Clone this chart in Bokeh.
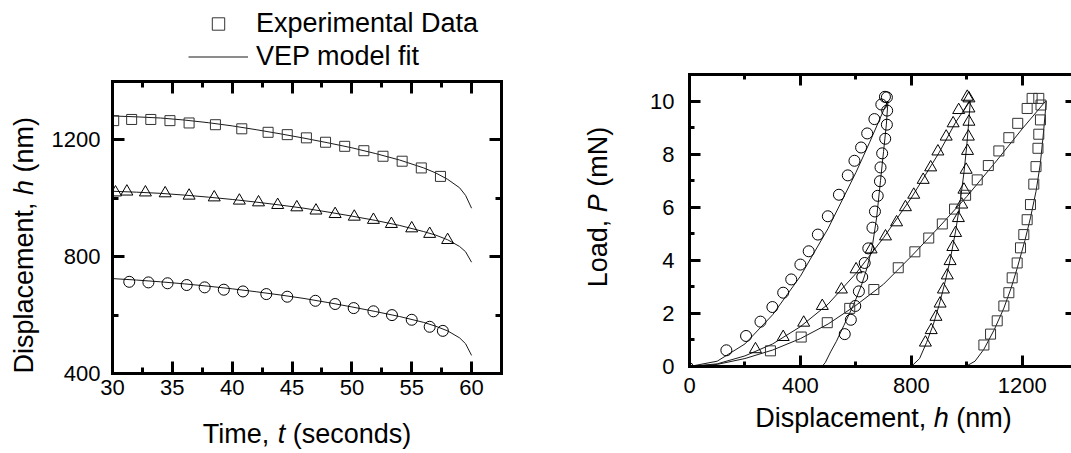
import math
from bokeh.plotting import figure
from bokeh.models import (LinearAxis, SingleIntervalTicker, Range1d, Label, Legend,
                          LegendItem, CustomJSTickFormatter)
from bokeh.layouts import row, column
from bokeh.embed import file_html
from bokeh.resources import INLINE

FONT = "Liberation Sans"

# ---------------- Left panel: displacement vs time ----------------
t_sq = [30.1, 31.6, 33.2, 34.8, 36.4, 38.6, 40.8, 43.0, 44.6, 46.2, 47.8, 49.4, 51.0, 52.6, 54.2, 55.8, 57.4]
h_sq = [1266, 1270, 1270, 1266, 1258, 1252, 1238, 1226, 1218, 1207, 1192, 1178, 1163, 1144, 1127, 1104, 1075]

t_tri = [30.25, 31.2, 32.75, 34.4, 36.4, 38.5, 40.6, 42.2, 43.8, 45.4, 47.0, 48.6, 50.2, 51.8, 53.3, 55.0, 56.5, 58.0]
h_tri = [1020, 1023, 1020, 1017, 1009, 1003, 992, 986, 977, 969, 958, 946, 937, 926, 912, 897, 878, 857]

t_cir = [31.4, 33.0, 34.6, 36.2, 37.7, 39.3, 40.9, 42.85, 44.6, 46.95, 48.6, 50.15, 51.8, 53.35, 55.0, 56.5, 57.6]
h_cir = [714, 712, 709, 703, 695, 687, 681, 672, 663, 649, 638, 624, 613, 600, 584, 560, 546]

t_fit = [30, 32, 34, 36, 38, 40, 42, 44, 46, 48, 50, 52, 54, 56, 57, 58, 59, 59.5, 60]
h_fit_sq = [1282, 1279, 1275, 1268, 1259, 1248, 1235, 1221, 1206, 1190, 1173, 1153, 1131, 1104, 1087, 1065, 1036, 1010, 966]
h_fit_tri = [1024, 1021, 1017, 1011, 1004, 996, 987, 977, 966, 953, 939, 924, 907, 886, 874, 858, 835, 817, 781]
h_fit_cir = [725, 720, 714, 707, 699, 690, 680, 669, 657, 643, 628, 612, 595, 575, 562, 546, 522, 502, 462]

# ---------------- Right panel: load vs displacement ----------------
cl_h = [133, 204, 256, 299, 338, 367, 400, 430, 463, 499, 539, 571, 595, 619, 641, 667, 692, 705]
cl_P = [0.61, 1.15, 1.69, 2.24, 2.78, 3.28, 3.84, 4.34, 4.97, 5.66, 6.47, 7.20, 7.75, 8.25, 8.78, 9.32, 9.87, 10.16]
cu_h = [712, 713, 712, 706, 695, 689, 687, 679, 669, 660, 645, 632, 623, 611, 598, 582, 560]
cu_P = [10.14, 9.64, 9.11, 8.58, 8.03, 7.50, 6.98, 6.43, 5.84, 5.23, 4.45, 3.90, 3.37, 2.83, 2.28, 1.76, 1.22]

tl_h = [238, 338, 412, 479, 548, 601, 655, 707, 747, 779, 809, 843, 870, 896, 926, 951, 971, 1002]
tl_P = [0.65, 1.11, 1.65, 2.28, 2.90, 3.66, 4.41, 4.90, 5.43, 6.00, 6.47, 7.03, 7.50, 8.10, 8.66, 9.16, 9.66, 10.16]
tu_h = [851, 872, 889, 904, 916, 930, 940, 950, 960, 970, 982, 990, 998, 1003, 1006, 1008, 1008, 1008]
tu_P = [0.90, 1.37, 1.87, 2.37, 2.90, 3.43, 3.97, 4.50, 5.03, 5.59, 6.10, 6.66, 7.41, 8.12, 8.66, 9.22, 9.72, 10.10]

sl_h = [292, 403, 497, 578, 665, 753, 813, 863, 912, 956, 996, 1038, 1078, 1116, 1152, 1184, 1218, 1236, 1260]
sl_P = [0.59, 1.11, 1.65, 2.19, 2.90, 3.72, 4.32, 4.84, 5.37, 5.93, 6.45, 7.03, 7.57, 8.12, 8.62, 9.16, 9.72, 10.10, 10.10]
su_h = [1062, 1086, 1110, 1134, 1152, 1164, 1182, 1194, 1206, 1218, 1230, 1242, 1250, 1257, 1260, 1266, 1268]
su_P = [0.81, 1.22, 1.72, 2.28, 2.78, 3.34, 3.90, 4.47, 4.97, 5.53, 6.10, 6.87, 7.53, 8.22, 8.75, 9.29, 9.85]

orig_h = [4]
orig_P = [0.05]

fcl_h = [0, 100, 200, 300, 400, 500, 600, 650, 700, 715]
fcl_P = [0, 0.2, 0.85, 1.95, 3.4, 5.2, 7.3, 8.45, 9.65, 10.0]
fcu_h = [478, 490, 509, 530, 557, 593, 620, 640, 659, 675, 689, 700, 710, 716]
fcu_P = [0, 0.15, 0.55, 0.95, 1.55, 2.35, 3.05, 3.7, 4.5, 5.6, 7.0, 8.1, 9.1, 10.0]
ftl_h = [0, 100, 200, 300, 400, 500, 600, 700, 800, 900, 960, 1012]
ftl_P = [0, 0.1, 0.4, 0.85, 1.5, 2.35, 3.5, 4.85, 6.35, 8.05, 9.2, 10.0]
ftu_h = [800, 830, 855, 880, 900, 920, 940, 960, 975, 990, 1000, 1008, 1013]
ftu_P = [0, 0.3, 0.9, 1.6, 2.3, 3.1, 4.0, 5.1, 6.1, 7.3, 8.3, 9.3, 10.0]
fsl_h = [0, 100, 200, 300, 400, 500, 600, 700, 800, 900, 1000, 1100, 1200, 1285]
fsl_P = [0, 0.08, 0.3, 0.62, 1.05, 1.6, 2.3, 3.1, 4.15, 5.25, 6.4, 7.65, 8.95, 10.0]
fsu_h = [996, 1030, 1062, 1100, 1134, 1160, 1182, 1210, 1230, 1250, 1265, 1275, 1282, 1287]
fsu_P = [0, 0.2, 0.65, 1.4, 2.2, 2.95, 3.7, 4.75, 5.6, 6.6, 7.6, 8.6, 9.4, 10.0]

legend_labels = ["Experimental Data", "VEP model fit"]

SQ_COLOR = "#333333"
LINE_COLOR = "#1a1a1a"
H = 453
NAN = float("nan")


def blank():
    return CustomJSTickFormatter(code="return ''")


def style_axis(ax, major_in, minor_in, labels=True, standoff=5, line=True):
    ax.axis_line_width = 3
    ax.axis_line_color = "black" if line else None
    ax.axis_line_cap = "square"
    ax.major_tick_in = major_in
    ax.major_tick_out = 0
    ax.minor_tick_in = minor_in
    ax.minor_tick_out = 0
    ax.major_tick_line_width = 3
    ax.minor_tick_line_width = 3
    ax.major_tick_line_color = "black"
    ax.minor_tick_line_color = "black" if minor_in > 0 else None
    if labels:
        ax.major_label_text_font = FONT
        ax.major_label_text_font_size = "22px"
        ax.major_label_text_color = "black"
        ax.major_label_standoff = standoff
    else:
        ax.formatter = blank()
        ax.major_label_standoff = 0
        ax.major_label_text_font_size = "1px"


def canvas(width, height):
    c = figure(width=width, height=height, x_range=Range1d(0, width), y_range=Range1d(0, height),
               x_axis_type=None, y_axis_type=None, output_backend="svg", toolbar_location=None,
               min_border=0, outline_line_color=None, frame_align=False,
               background_fill_color="white", border_fill_color="white")
    c.xgrid.visible = False
    c.ygrid.visible = False
    return c


def add_label_parts(p, parts, x, y, angle=0.0, size=27):
    # parts: (text, italic, advance in 1/1000 em incl. following space)
    pos = 0.0
    for text, italic, adv in parts:
        lx, ly = (x + pos, y) if angle == 0 else (x, y + pos)
        p.add_layout(Label(x=lx, y=ly, x_units="screen", y_units="screen", text=text,
                           angle=angle, text_font=FONT, text_font_size=f"{size}px",
                           text_font_style="italic" if italic else "normal",
                           text_color="black", text_align="left", text_baseline="middle"))
        pos += adv * size / 1000.0


def total_width(parts, size=27):
    return sum(a for _, _, a in parts) * size / 1000.0


# ------------- Main plot 1 -------------
p1 = figure(width=515, height=334, x_range=Range1d(30, 62.5), y_range=Range1d(400, 1400),
            output_backend="svg", toolbar_location=None, frame_align=False,
            min_border_left=67, min_border_right=59, min_border_top=5, min_border_bottom=37,
            outline_line_color=None, background_fill_color="white", border_fill_color="white")
p1.xgrid.visible = False
p1.ygrid.visible = False
p1.xaxis.ticker = SingleIntervalTicker(interval=5, num_minor_ticks=2)
p1.yaxis.ticker = SingleIntervalTicker(interval=400, num_minor_ticks=2)
style_axis(p1.xaxis[0], 12, 6, True, 6)
style_axis(p1.yaxis[0], 12, 6, True, 12)
top1 = LinearAxis(ticker=SingleIntervalTicker(interval=5, num_minor_ticks=2))
right1 = LinearAxis(ticker=SingleIntervalTicker(interval=400, num_minor_ticks=2))
style_axis(top1, 12, 6, False)
style_axis(right1, 12, 6, False)
p1.add_layout(top1, "above")
p1.add_layout(right1, "right")

p1.line(t_fit, h_fit_sq, line_color=LINE_COLOR, line_width=1)
p1.line(t_fit, h_fit_tri, line_color=LINE_COLOR, line_width=1)
p1.line(t_fit, h_fit_cir, line_color=LINE_COLOR, line_width=1)
p1.scatter(t_sq, h_sq, marker="square", size=10, fill_color=None, line_color=SQ_COLOR, line_width=1)
p1.scatter(t_tri, h_tri, marker="triangle", size=12, fill_color=None, line_color="black", line_width=1)
p1.scatter(t_cir, h_cir, marker="circle", size=11, fill_color=None, line_color="black", line_width=1)

# legend strip above plot 1 (legend glyph samples only, no data drawn)
leg = canvas(515, 76)
lg_sq = leg.scatter([NAN], [NAN], marker="square", size=10, fill_color=None, line_color=SQ_COLOR, line_width=1)
lg_ln = leg.line([NAN, NAN], [NAN, NAN], line_color=LINE_COLOR, line_width=1)
legend = Legend(items=[LegendItem(label=legend_labels[0], renderers=[lg_sq]),
                       LegendItem(label=legend_labels[1], renderers=[lg_ln])],
                location=(143, 4), padding=0, margin=0, spacing=2,
                glyph_width=60, glyph_height=31, label_height=31, label_standoff=8,
                label_text_font=FONT, label_text_font_size="27px", label_text_color="black",
                border_line_color=None, background_fill_alpha=0)
leg.add_layout(legend)

# x label strip under plot 1
xlab1 = canvas(515, 43)
parts_x1 = [("Time,", False, 2778), ("t", True, 556), ("(seconds)", False, 4390)]
add_label_parts(xlab1, parts_x1, (112 + 501) / 2 - 45 - total_width(parts_x1) / 2, H - 433)

# y label strip left of plot 1
ylab1 = canvas(45, H)
parts_y1 = [("Displacement,", False, 6613), ("h", True, 834), ("(nm)", False, 2055)]
add_label_parts(ylab1, parts_y1, 23.5, H - 373, angle=math.pi / 2)

# ------------- Main plot 2 -------------
P2H = 402
p2 = figure(width=441, height=P2H, x_range=Range1d(0, 1378), y_range=Range1d(0, 11),
            output_backend="svg", toolbar_location=None, frame_align=False,
            min_border_left=59, min_border_right=0, min_border_top=74, min_border_bottom=P2H - 366,
            outline_line_color=None, background_fill_color="white", border_fill_color="white")
p2.xgrid.visible = False
p2.ygrid.visible = False
p2.xaxis.ticker = SingleIntervalTicker(interval=400, num_minor_ticks=2)
p2.yaxis.ticker = SingleIntervalTicker(interval=2, num_minor_ticks=2)
style_axis(p2.xaxis[0], 11, 5, True, 11)
style_axis(p2.yaxis[0], 11, 5, True, 15)
top2 = LinearAxis(ticker=SingleIntervalTicker(interval=400, num_minor_ticks=2))
right2 = LinearAxis(ticker=SingleIntervalTicker(interval=2, num_minor_ticks=2))
style_axis(top2, 11, 5, False)
style_axis(right2, 6, 0, False, line=False)
p2.add_layout(top2, "above")
p2.add_layout(right2, "right")

for xs, ys in [(fcl_h, fcl_P), (fcu_h, fcu_P), (ftl_h, ftl_P), (ftu_h, ftu_P), (fsl_h, fsl_P), (fsu_h, fsu_P)]:
    p2.line(xs, ys, line_color=LINE_COLOR, line_width=1)

p2.scatter(cl_h, cl_P, marker="circle", size=11, fill_color=None, line_color="black", line_width=1)
p2.scatter(cu_h, cu_P, marker="circle", size=11, fill_color=None, line_color="black", line_width=1)
p2.scatter(orig_h, orig_P, marker="circle", size=4, fill_color=None, line_color="black", line_width=1)
p2.scatter(tl_h, tl_P, marker="triangle", size=12, fill_color=None, line_color="black", line_width=1)
p2.scatter(tu_h, tu_P, marker="triangle", size=12, fill_color=None, line_color="black", line_width=1)
p2.scatter(sl_h, sl_P, marker="square", size=10, fill_color=None, line_color=SQ_COLOR, line_width=1)
p2.scatter(su_h, su_P, marker="square", size=10, fill_color=None, line_color=SQ_COLOR, line_width=1)

xlab2 = canvas(441, H - P2H)
parts_x2 = [("Displacement,", False, 6613), ("h", True, 834), ("(nm)", False, 2055)]
add_label_parts(xlab2, parts_x2, (689 + 1077) / 2 - 630 - total_width(parts_x2) / 2, H - 417)

ylab2 = canvas(70, H)
parts_y2 = [("Load,", False, 2780), ("P", True, 945), ("(mN)", False, 2221)]
add_label_parts(ylab2, parts_y2, 597 - 560, H - 286.7, angle=math.pi / 2)

layout = row(
    ylab1,
    column(leg, p1, xlab1, spacing=0),
    ylab2,
    column(p2, xlab2, spacing=0),
    spacing=0,
)
open("out.html", "w").write(file_html(layout, INLINE))
